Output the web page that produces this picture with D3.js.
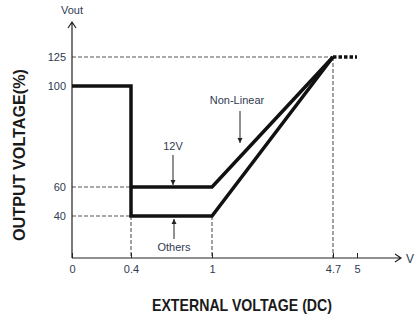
<!DOCTYPE html>
<html>
<head>
<meta charset="utf-8">
<script src="https://cdn.jsdelivr.net/npm/d3@7"></script>
<style>
  body { margin: 0; background: #fff; }
  svg { display: block; font-family: "Liberation Sans", Arial, sans-serif; }
</style>
</head>
<body>
<svg></svg>
<script>
// chart values
var xTicks = [0, 0.4, 1, 4.7, 5];
var yTicks = [40, 60, 100, 125];
var othersLine = [[0, 100], [0.4, 100], [0.4, 40], [1, 40], [4.7, 125]];
var v12Line = [[0.4, 60], [1, 60], [4.7, 125]];
var extension = [[4.7, 125], [5, 125]];

var width = 417;
var height = 318;
var labelColor = '#2f3b52';

// schematic axes, not to scale -> piecewise scales
var xScale = d3.scaleLinear()
                .domain([0, 0.4, 1, 4.7, 5])
                .range([72, 131, 212, 333, 357]);

var yScale = d3.scaleLinear()
                .domain([0, 40, 60, 100, 125])
                .range([258, 216, 187, 86, 57]);

var svg = d3.select('svg')
    .attr('width', width)
    .attr('height', height);

var line = d3.line()
    .x(d => xScale(d[0]))
    .y(d => yScale(d[1]));

// dashed guide lines
var guides = [
  [[0, 125], [4.7, 125]],
  [[4.7, 125], [4.7, 0]],
  [[0, 60], [0.4, 60]],
  [[0, 40], [0.4, 40]],
  [[0.4, 40], [0.4, 0]],
  [[1, 40], [1, 0]]
];

svg.append('g')
  .selectAll('path')
  .data(guides)
  .enter()
  .append('path')
    .attr('d', line)
    .attr('fill', 'none')
    .attr('stroke', '#555')
    .attr('stroke-width', 1.1)
    .attr('stroke-dasharray', '4,2');

// axes
var xAxis = d3.axisBottom(xScale)
              .tickValues(xTicks)
              .tickFormat(d3.format(''))
              .tickSizeInner(-5)
              .tickSizeOuter(0)
              .tickPadding(7);

var yAxis = d3.axisLeft(yScale)
              .tickValues(yTicks)
              .tickSize(0)
              .tickPadding(6);

var gx = svg.append('g')
    .attr('transform', 'translate(0,' + yScale(0) + ')')
    .call(xAxis);

var gy = svg.append('g')
    .attr('transform', 'translate(' + xScale(0) + ',0)')
    .call(yAxis);

[gx, gy].forEach(function (g) {
  g.select('.domain').remove();
  g.selectAll('text')
    .style('font-size', '11px')
    .attr('fill', labelColor);
  g.selectAll('line').attr('stroke', '#222');
});

// axis lines with open arrows
var x0 = xScale(0), y0 = yScale(0);
svg.append('path')
    .attr('d', 'M' + x0 + ',' + y0 + 'H400 M395,' + (y0 - 4) + 'L401,' + y0 + 'L395,' + (y0 + 4))
    .attr('fill', 'none')
    .attr('stroke', '#222')
    .attr('stroke-width', 1.2);

svg.append('path')
    .attr('d', 'M' + x0 + ',' + y0 + 'V22 M' + (x0 - 4) + ',28L' + x0 + ',22L' + (x0 + 4) + ',28')
    .attr('fill', 'none')
    .attr('stroke', '#222')
    .attr('stroke-width', 1.2);

svg.append('text')
    .attr('x', x0)
    .attr('y', 14)
    .style('text-anchor', 'middle')
    .style('font-size', '11px')
    .attr('fill', labelColor)
    .text('Vout');

svg.append('text')
    .attr('x', 406)
    .attr('y', y0 + 5)
    .style('font-size', '12px')
    .attr('fill', labelColor)
    .text('V');

// main curves
[othersLine, v12Line].forEach(function (pts) {
  svg.append('path')
      .datum(pts)
      .attr('d', line)
      .attr('fill', 'none')
      .attr('stroke', '#111')
      .attr('stroke-width', 3.5)
      .attr('stroke-linejoin', 'miter');
});

svg.append('path')
    .datum(extension)
    .attr('d', line)
    .attr('fill', 'none')
    .attr('stroke', '#111')
    .attr('stroke-width', 3.5)
    .attr('stroke-dasharray', '3.5,2');

// annotations
svg.append('defs').append('marker')
    .attr('id', 'arr')
    .attr('viewBox', '0 0 10 10')
    .attr('refX', 10)
    .attr('refY', 5)
    .attr('markerWidth', 5)
    .attr('markerHeight', 6)
    .attr('orient', 'auto')
  .append('path')
    .attr('d', 'M0,0L10,5L0,10Z')
    .attr('fill', '#222');

var notes = [
  { text: '12V', x: 173, y: 150, from: 155, to: 185 },
  { text: 'Non-Linear', x: 237, y: 104, from: 111, to: 143 },
  { text: 'Others', x: 174, y: 251, from: 239, to: 219 }
];

notes.forEach(function (n) {
  svg.append('text')
      .attr('x', n.x)
      .attr('y', n.y)
      .style('text-anchor', 'middle')
      .style('font-size', '11px')
      .attr('fill', labelColor)
      .text(n.text);
  svg.append('line')
      .attr('x1', n.x + (n.text === 'Non-Linear' ? 3 : 0))
      .attr('x2', n.x + (n.text === 'Non-Linear' ? 3 : 0))
      .attr('y1', n.from)
      .attr('y2', n.to)
      .attr('stroke', '#222')
      .attr('stroke-width', 1)
      .attr('marker-end', 'url(#arr)');
});

// axis titles (condensed bold, as in the reference)
svg.append('text')
    .attr('x', 242)
    .attr('y', 311)
    .style('text-anchor', 'middle')
    .style('font-size', '17px')
    .style('font-weight', 'bold')
    .attr('textLength', 180)
    .attr('lengthAdjust', 'spacingAndGlyphs')
    .attr('fill', '#1a1a1a')
    .text('EXTERNAL VOLTAGE (DC)');

svg.append('text')
    .attr('transform', 'rotate(-90)')
    .attr('x', -155)
    .attr('y', 25)
    .style('text-anchor', 'middle')
    .style('font-size', '17px')
    .style('font-weight', 'bold')
    .attr('textLength', 172)
    .attr('lengthAdjust', 'spacingAndGlyphs')
    .attr('fill', '#1a1a1a')
    .text('OUTPUT VOLTAGE(%)');
</script>
</body>
</html>
